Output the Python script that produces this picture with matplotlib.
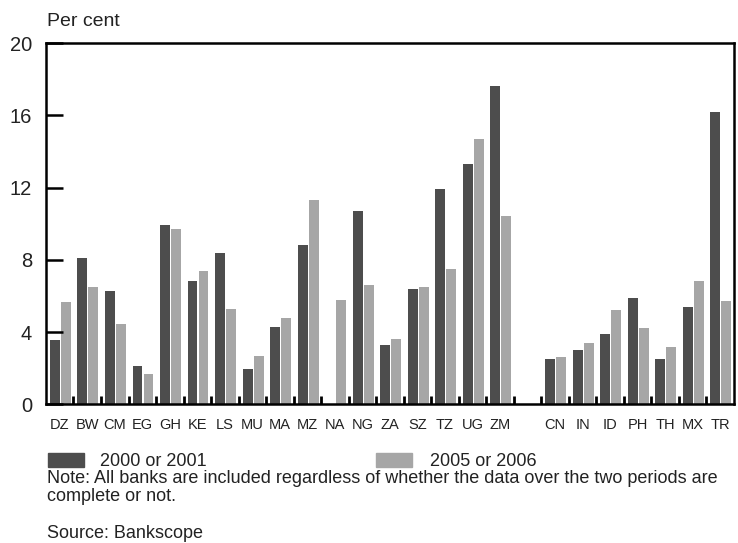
import numpy as np
import matplotlib
matplotlib.use('Agg')
import matplotlib.pyplot as plt
from matplotlib.patches import Rectangle

plt.rcParams['font.family'] = ['Liberation Sans', 'DejaVu Sans']

# Data (per cent)
africa = ['DZ', 'BW', 'CM', 'EG', 'GH', 'KE', 'LS', 'MU', 'MA', 'MZ', 'NA', 'NG',
          'ZA', 'SZ', 'TZ', 'UG', 'ZM']
others = ['CN', 'IN', 'ID', 'PH', 'TH', 'MX', 'TR']
early_africa = [3.55, 8.1, 6.3, 2.1, 9.95, 6.85, 8.4, 1.95, 4.3, 8.8, np.nan, 10.7,
                3.3, 6.4, 11.9, 13.3, 17.6]
late_africa = [5.65, 6.5, 4.45, 1.7, 9.7, 7.4, 5.25, 2.7, 4.8, 11.3, 5.8, 6.6,
               3.6, 6.5, 7.5, 14.7, 10.4]
early_others = [2.5, 3.0, 3.9, 5.9, 2.5, 5.4, 16.2]
late_others = [2.6, 3.4, 5.2, 4.2, 3.2, 6.85, 5.7]

DARK = '#4d4d4d'
LIGHT = '#a6a6a6'
TXT = '#222222'

# one empty slot between the two groups
labels = africa + [''] + others
early = early_africa + [np.nan] + early_others
late = late_africa + [np.nan] + late_others
x = np.arange(len(labels))

fig = plt.figure(figsize=(7.38, 5.43), dpi=100)
ax = fig.add_axes([0.0623, 0.2554, 0.9323, 0.6654])

w = 0.36
ax.bar(x - 0.175, early, width=w, color=DARK, linewidth=0)
ax.bar(x + 0.225, late, width=w, color=LIGHT, linewidth=0)

ax.set_xlim(-0.5, len(labels) - 0.5)
ax.set_ylim(0, 20)
ax.set_yticks([0, 4, 8, 12, 16, 20])
ax.set_xticks(x)
ax.set_xticklabels(labels, fontsize=10.5, color=TXT)
ax.set_xticks(np.arange(len(labels) - 1) + 0.5, minor=True)
ax.tick_params(axis='x', which='major', length=0, pad=10)
ax.tick_params(axis='x', which='minor', direction='in', length=6, width=2)
ax.tick_params(axis='y', direction='in', length=12, width=1.8, labelsize=14.5,
               pad=10, labelcolor=TXT)
for s in ax.spines.values():
    s.set_linewidth(1.8)
fig.text(47 / 738, 1 - 21 / 543, 'Per cent', fontsize=14, va='center', color=TXT)

# legend and notes
fig.add_artist(Rectangle((48 / 738, 1 - 467 / 543), 36 / 738, 14 / 543,
                         transform=fig.transFigure, color=DARK))
fig.text(100 / 738, 1 - 461 / 543, '2000 or 2001', fontsize=13, va='center', color=TXT)
fig.add_artist(Rectangle((376 / 738, 1 - 467 / 543), 36 / 738, 14 / 543,
                         transform=fig.transFigure, color=LIGHT))
fig.text(430 / 738, 1 - 461 / 543, '2005 or 2006', fontsize=13, va='center', color=TXT)
fig.text(47 / 738, 1 - 470 / 543,
         'Note: All banks are included regardless of whether the data over the two periods are\n'
         'complete or not.', fontsize=13, va='top', linespacing=1.05, color=TXT)
fig.text(47 / 738, 1 - 534 / 543, 'Source: Bankscope', fontsize=13, va='center', color=TXT)

fig.savefig('out.png', dpi=100)
